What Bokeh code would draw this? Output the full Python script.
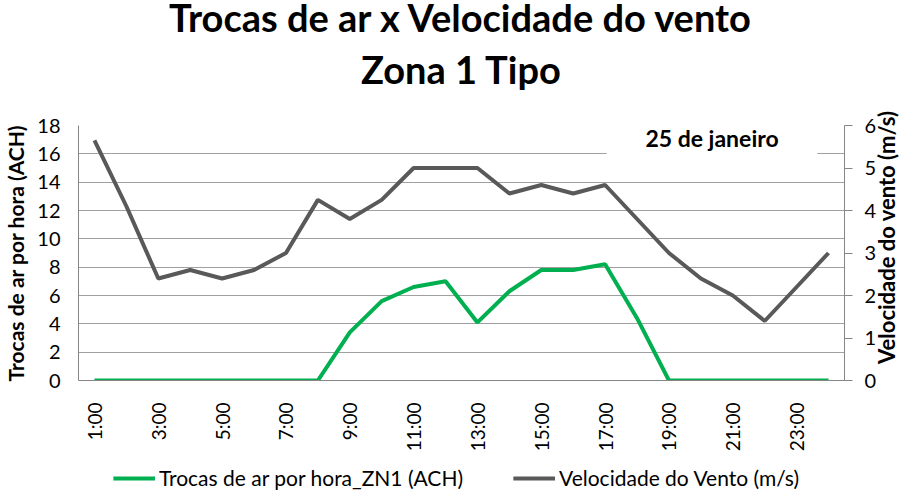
import numpy as np
from bokeh.plotting import figure
from bokeh.layouts import column
from bokeh.models import (Range1d, LinearAxis, FixedTicker, Legend, LegendItem,
                          Title, BoxAnnotation, Label)
from bokeh.embed import file_html
from bokeh.resources import INLINE

# ---- data ----
hours = ["1:00", "2:00", "3:00", "4:00", "5:00", "6:00", "7:00", "8:00",
         "9:00", "10:00", "11:00", "12:00", "13:00", "14:00", "15:00", "16:00",
         "17:00", "18:00", "19:00", "20:00", "21:00", "22:00", "23:00", "24:00"]
ach = [0, 0, 0, 0, 0, 0, 0, 0, 3.4, 5.6, 6.6, 7.0, 4.1, 6.3, 7.8, 7.8,
       8.2, 4.4, 0, 0, 0, 0, 0, 0]
wind = [5.65, 4.1, 2.4, 2.6, 2.4, 2.6, 3.0, 4.25, 3.8, 4.25, 5.0, 5.0,
        5.0, 4.4, 4.6, 4.4, 4.6, 3.8, 3.0, 2.4, 2.0, 1.4, 2.2, 3.0]
left_ticks = [0, 2, 4, 6, 8, 10, 12, 14, 16, 18]
right_ticks = [0, 1, 2, 3, 4, 5, 6]
series_names = ["Trocas de ar por hora_ZN1 (ACH)", "Velocidade do Vento (m/s)"]
title_lines = ["Trocas de ar x Velocidade do vento", "Zona 1 Tipo"]
left_label = "Trocas de ar por hora (ACH)"
right_label = "Velocidade do vento (m/s)"
note_text = "25 de janeiro"

FONT = "Lato"
GREEN = "#00b050"
GREY = "#595959"
AXIS = "#868686"
GRID = "#a0a0a0"

x = np.arange(1, len(hours) + 1)
label_ticks = [int(t) for t in x[::2]]
overrides = {t: hours[t - 1] for t in label_ticks}

p = figure(frame_width=766, frame_height=255, output_backend="svg",
           toolbar_location=None,
           x_range=Range1d(0.5, len(hours) + 0.5),
           y_range=Range1d(left_ticks[0], left_ticks[-1]),
           min_border_left=76, min_border_right=64,
           min_border_top=117, min_border_bottom=80)
p.outline_line_color = None
p.background_fill_color = "white"
p.border_fill_color = "white"

p.extra_y_ranges = {"wind": Range1d(right_ticks[0], right_ticks[-1])}

# lines
r_ach = p.line(x, ach, line_color=GREEN, line_width=4)
r_wind = p.line(x, wind, line_color=GREY, line_width=4, y_range_name="wind")

# x axis
xa = p.xaxis[0]
xa.ticker = FixedTicker(ticks=label_ticks)
xa.major_label_overrides = overrides
xa.major_label_orientation = np.pi / 2
xa.major_tick_line_color = None
xa.minor_tick_line_color = None
xa.axis_line_color = AXIS
xa.major_label_standoff = 16
xa.major_label_text_font = FONT
xa.major_label_text_font_size = "19px"
xa.major_label_text_color = "black"
p.xgrid.visible = False

# left axis
ya = p.yaxis[0]
ya.ticker = FixedTicker(ticks=left_ticks)
ya.major_tick_out = 0
ya.major_tick_in = 0
ya.minor_tick_line_color = None
ya.axis_line_color = AXIS
ya.major_label_standoff = 18
ya.major_label_text_font = FONT
ya.major_label_text_font_size = "20px"
ya.major_label_text_color = "black"
ya.axis_label = left_label
ya.axis_label_text_font = FONT
ya.axis_label_text_font_style = "bold"
ya.axis_label_text_font_size = "21px"
ya.axis_label_text_color = "black"
ya.axis_label_standoff = 6
p.ygrid.ticker = FixedTicker(ticks=left_ticks)
p.ygrid.grid_line_color = GRID
p.ygrid.grid_line_width = 1

# right axis
ra = LinearAxis(y_range_name="wind", ticker=FixedTicker(ticks=right_ticks))
ra.major_tick_out = 8
ra.major_tick_in = 0
ra.major_tick_line_color = AXIS
ra.minor_tick_line_color = None
ra.axis_line_color = AXIS
ra.major_label_standoff = 12
ra.major_label_text_font = FONT
ra.major_label_text_font_size = "20px"
ra.major_label_text_color = "black"
ra.axis_label = "\u2002\u2005" + right_label
ra.axis_label_text_font = FONT
ra.axis_label_text_font_style = "bold"
ra.axis_label_text_font_size = "22px"
ra.axis_label_text_color = "black"
ra.axis_label_standoff = 7
props = ra.properties()
if "axis_label_orientation" in props:
    ra.axis_label_orientation = np.pi / 2
if "axis_label_align" in props:
    try:
        ra.axis_label_align = "start"
    except Exception:
        pass
p.add_layout(ra, "right")

# note box
box = BoxAnnotation(left=17.05, right=23.65, bottom=15.67, top=19,
                    fill_color="white", fill_alpha=1.0, line_color=None)
p.add_layout(box)
p.add_layout(Label(x=20.35, y=17.15, text=note_text, text_align="center",
                   text_baseline="middle", text_font=FONT, text_font_style="bold",
                   text_font_size="23px", text_color="black"))

# titles (stacked from the plot frame upwards: spacer, line 2, line 1)
spacer = Title(text=".", text_font_size="2px", text_color="white", standoff=19.8)
t2 = Title(text=title_lines[1], align="center", text_font=FONT,
           text_font_style="bold", text_font_size="38px", text_color="black",
           standoff=20.4)
t1 = Title(text=title_lines[0], align="center", text_font=FONT,
           text_font_style="bold", text_font_size="38px", text_color="black",
           vertical_align="top", standoff=0)
try:
    t1.standoff = -13.6
except Exception:
    spacer.standoff = 23.4
    t2.standoff = 0
p.add_layout(spacer, "above")
p.add_layout(t2, "above")
p.add_layout(t1, "above")

# legend strip below the chart (sample lines lie outside its visible range)
lf = figure(width=906, height=30, output_backend="svg", toolbar_location=None,
            x_axis_type=None, y_axis_type=None,
            x_range=Range1d(0, 1), y_range=Range1d(0, 1),
            min_border_left=9, min_border_right=0, min_border_top=0,
            min_border_bottom=0)
lf.outline_line_color = None
lf.grid.visible = False
lg_ach = lf.line([-2, -1], [-2, -1], line_color=GREEN, line_width=4)
lg_wind = lf.line([-2, -1], [-2, -1], line_color=GREY, line_width=4)
legend = Legend(items=[LegendItem(label=series_names[0], renderers=[lg_ach]),
                       LegendItem(label=series_names[1], renderers=[lg_wind])],
                orientation="horizontal", location="bottom_center",
                label_text_font=FONT, label_text_font_size="21px",
                label_text_color="black", glyph_width=42, label_standoff=4,
                spacing=50, border_line_color=None, background_fill_alpha=0,
                padding=0, margin=0)
lf.add_layout(legend)

layout = column(p, lf, spacing=0)
open("out.html", "w").write(file_html(layout, INLINE))
